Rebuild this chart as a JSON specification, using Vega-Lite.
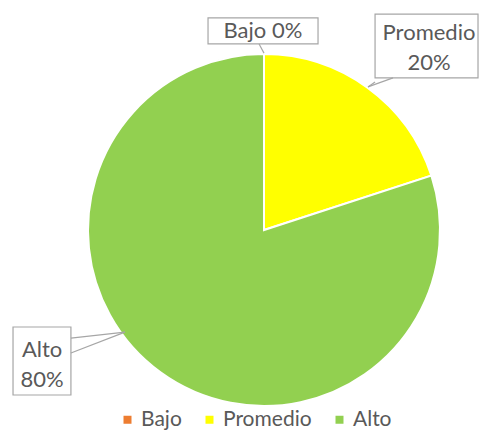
{
  "$schema": "https://vega.github.io/schema/vega-lite/v6.json",
  "width": 352,
  "height": 352,
  "autosize": {"type": "none"},
  "padding": {"left": 88, "top": 54, "right": 40, "bottom": 24},
  "background": "white",
  "config": {"view": {"stroke": null}, "font": "Lato"},
  "data": {"values": [
    {"cat": "Bajo", "pct": 0, "orden": 1},
    {"cat": "Promedio", "pct": 20, "orden": 2},
    {"cat": "Alto", "pct": 80, "orden": 3}
  ]},
  "layer": [
    {
      "mark": {"type": "arc", "stroke": "white", "strokeWidth": 2},
      "encoding": {
        "theta": {"field": "pct", "type": "quantitative", "stack": true},
        "order": {"field": "orden", "type": "quantitative"},
        "color": {
          "field": "cat", "type": "nominal", "sort": null,
          "scale": {"domain": ["Bajo", "Promedio", "Alto"], "range": ["#ED7D31", "#FFFF00", "#92D050"]},
          "legend": {
            "orient": "none", "legendX": 29, "legendY": 355, "direction": "horizontal",
            "title": null, "symbolType": "square", "symbolSize": 64, "symbolStrokeWidth": 0,
            "labelFontSize": 21, "labelColor": "#595959", "labelFont": "Lato",
            "columnPadding": 17, "labelOffset": 3, "padding": 0
          }
        }
      }
    },
    {
      "transform": [{"filter": "datum.cat === 'Bajo'"}, {"calculate": "datum.cat + ' ' + datum.pct + '%'", "as": "lab"}],
      "layer": [
        {
          "mark": {"type": "rect", "fill": "white", "stroke": "#A6A6A6", "strokeWidth": 1.2},
          "encoding": {
            "x": {"datum": -0.318, "type": "quantitative", "scale": {"domain": [-1, 1], "nice": false, "zero": false}, "axis": null},
            "x2": {"datum": 0.307},
            "y": {"datum": 1.205, "type": "quantitative", "scale": {"domain": [-1, 1], "nice": false, "zero": false}, "axis": null},
            "y2": {"datum": 1.057}
          }
        },
        {
          "mark": {"type": "rule", "stroke": "#A6A6A6", "strokeWidth": 1.2},
          "encoding": {
            "x": {"datum": -0.028, "type": "quantitative"},
            "x2": {"datum": 0.0},
            "y": {"datum": 1.057, "type": "quantitative"},
            "y2": {"datum": 1.005}
          }
        },
        {
          "mark": {"type": "text", "fontSize": 22, "color": "#595959", "align": "center", "baseline": "middle"},
          "encoding": {
            "x": {"datum": -0.006, "type": "quantitative"},
            "y": {"datum": 1.131, "type": "quantitative"},
            "text": {"field": "lab", "type": "nominal"}
          }
        }
      ]
    },
    {
      "transform": [{"filter": "datum.cat === 'Promedio'"}, {"calculate": "[datum.cat, datum.pct + '%']", "as": "lab"}],
      "layer": [
        {
          "mark": {"type": "rect", "fill": "white", "stroke": "#A6A6A6", "strokeWidth": 1.2},
          "encoding": {
            "x": {"datum": 0.631, "type": "quantitative"},
            "x2": {"datum": 1.216},
            "y": {"datum": 1.227, "type": "quantitative"},
            "y2": {"datum": 0.864}
          }
        },
        {
          "mark": {"type": "rule", "stroke": "#A6A6A6", "strokeWidth": 1.2},
          "encoding": {
            "x": {"datum": 0.733, "type": "quantitative"},
            "x2": {"datum": 0.591},
            "y": {"datum": 0.864, "type": "quantitative"},
            "y2": {"datum": 0.813}
          }
        },
        {
          "mark": {"type": "rule", "stroke": "#A6A6A6", "strokeWidth": 1.2},
          "encoding": {
            "x": {"datum": 0.631, "type": "quantitative"},
            "x2": {"datum": 0.591},
            "y": {"datum": 0.841, "type": "quantitative"},
            "y2": {"datum": 0.813}
          }
        },
        {
          "mark": {"type": "text", "fontSize": 22, "color": "#595959", "align": "center", "baseline": "middle", "lineHeight": 30, "dy": -15},
          "encoding": {
            "x": {"datum": 0.9375, "type": "quantitative"},
            "y": {"datum": 1.034, "type": "quantitative"},
            "text": {"field": "lab", "type": "nominal"}
          }
        }
      ]
    },
    {
      "transform": [{"filter": "datum.cat === 'Alto'"}, {"calculate": "[datum.cat, datum.pct + '%']", "as": "lab"}],
      "layer": [
        {
          "mark": {"type": "rect", "fill": "white", "stroke": "#A6A6A6", "strokeWidth": 1.2},
          "encoding": {
            "x": {"datum": -1.426, "type": "quantitative"},
            "x2": {"datum": -1.097},
            "y": {"datum": -0.551, "type": "quantitative"},
            "y2": {"datum": -0.9375}
          }
        },
        {
          "mark": {"type": "rule", "stroke": "#A6A6A6", "strokeWidth": 1.2},
          "encoding": {
            "x": {"datum": -1.097, "type": "quantitative"},
            "x2": {"datum": -0.79},
            "y": {"datum": -0.614, "type": "quantitative"},
            "y2": {"datum": -0.58}
          }
        },
        {
          "mark": {"type": "rule", "stroke": "#A6A6A6", "strokeWidth": 1.2},
          "encoding": {
            "x": {"datum": -1.097, "type": "quantitative"},
            "x2": {"datum": -0.79},
            "y": {"datum": -0.699, "type": "quantitative"},
            "y2": {"datum": -0.58}
          }
        },
        {
          "mark": {"type": "text", "fontSize": 22, "color": "#595959", "align": "center", "baseline": "middle", "lineHeight": 30, "dy": -15},
          "encoding": {
            "x": {"datum": -1.261, "type": "quantitative"},
            "y": {"datum": -0.767, "type": "quantitative"},
            "text": {"field": "lab", "type": "nominal"}
          }
        }
      ]
    }
  ]
}
